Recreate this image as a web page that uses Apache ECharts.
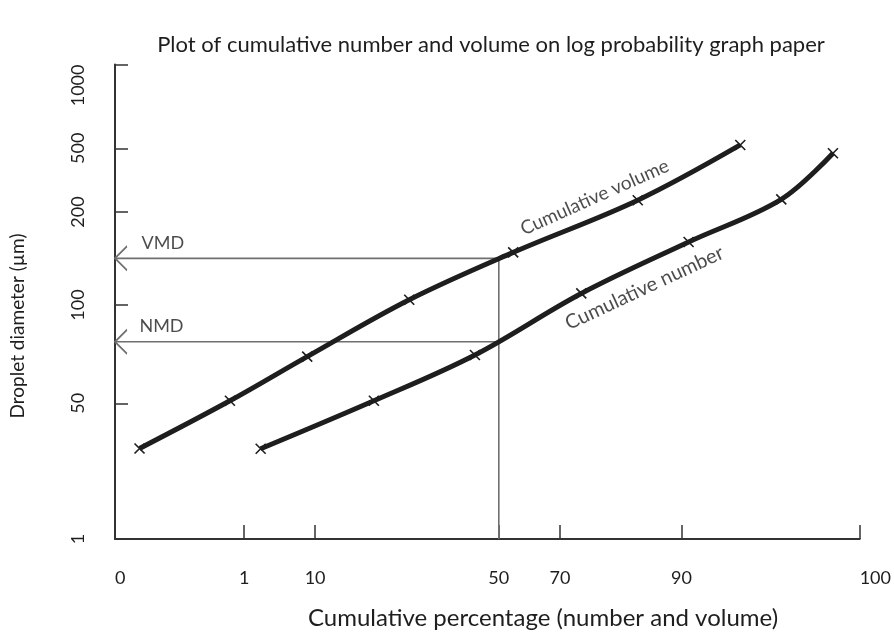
<!DOCTYPE html>
<html>
<head>
<meta charset="utf-8">
<script src="https://cdn.jsdelivr.net/npm/echarts@6/dist/echarts.min.js"></script>
<style>
  html, body { margin: 0; padding: 0; background: #fff; }
  #chart { width: 894px; height: 633px; }
</style>
</head>
<body>
<div id="chart"></div>
<script>
// tick values printed on the paper
const xTicks = [0, 1, 10, 50, 70, 90, 100];
const yTicks = [1, 50, 100, 200, 500, 1000];
// where the paper puts them (fraction of axis length) - the ruling is not a true scale
const xTickPos = [0, 0.1734, 0.2687, 0.5154, 0.5976, 0.7607, 1];
const yTickPos = [0, 0.286, 0.4932, 0.6891, 0.8234, 1];

// cumulative volume curve (percent, diameter um)
const volPct = [0.19, 0.89, 9.0, 30.5, 54.7, 82.8, 93.3];
const volDia = [13.6, 50.9, 69.5, 104, 148, 237, 514];
// cumulative number curve
const numPct = [3.1, 22.8, 44.8, 73.5, 90.4, 95.6, 98.5];
const numDia = [13.5, 50.9, 70.3, 109, 160, 240, 466];

const medianPct = 50;
const vmd = 141.6;
const nmd = 77.2;

// value -> position on the paper, piecewise between printed ticks (log for diameter)
function toPos(v, ticks, pos, isLog) {
  const f = isLog ? Math.log : (a => a);
  for (let i = 0; i < ticks.length - 1; i++) {
    if (v <= ticks[i + 1] || i === ticks.length - 2) {
      const t = (f(v) - f(ticks[i])) / (f(ticks[i + 1]) - f(ticks[i]));
      return pos[i] + t * (pos[i + 1] - pos[i]);
    }
  }
}
const px = v => toPos(v, xTicks, xTickPos, false);
const py = v => toPos(v, yTicks, yTickPos, true);
const pt = (p, d) => [px(p), py(d)];

function tickLabel(v, ticks, pos) {
  for (let i = 0; i < pos.length; i++) if (Math.abs(pos[i] - v) < 1e-6) return String(ticks[i]);
  return '';
}

const font = 'Lato, "Open Sans", sans-serif';
const ink = '#1e1e1e';
const grey = '#6f6f6f';
const cross = 'path://M0,0L10,10M10,0L0,10';
const chevron = 'path://M12,0L0,12L12,24';

function curve(pcts, dias) {
  return pcts.map((p, i) => pt(p, dias[i]));
}

function arrowLine(level) {
  return {
    type: 'line', silent: true, z: 1,
    lineStyle: { color: grey, width: 1.6 },
    itemStyle: { color: 'transparent', borderColor: grey, borderWidth: 1.6 },
    showSymbol: true,
    data: [
      { value: pt(medianPct, level), symbol: 'none' },
      { value: pt(0, level), symbol: chevron, symbolSize: [12, 24], symbolOffset: [6, 0] }
    ]
  };
}

const chart = echarts.init(document.getElementById('chart'));
const option = {
  animation: false,
  backgroundColor: '#fff',
  title: {
    text: 'Plot of cumulative number and volume on log probability graph paper',
    left: 486, textAlign: 'center', top: 29,
    textStyle: { fontFamily: font, fontSize: 22, fontWeight: 'normal', color: ink }
  },
  grid: { left: 115, right: 31, top: 64.5, bottom: 94 },
  xAxis: {
    type: 'value', min: 0, max: 1,
    axisLine: { lineStyle: { color: '#333', width: 2 } },
    axisTick: { inside: true, length: 14, customValues: xTickPos, lineStyle: { color: '#333', width: 1.5 } },
    axisLabel: {
      customValues: xTickPos, margin: 30,
      alignMinLabel: 'left', alignMaxLabel: 'left',
      fontFamily: font, fontSize: 18, color: ink,
      formatter: v => tickLabel(v, xTicks, xTickPos)
    },
    splitLine: { show: false }
  },
  yAxis: {
    type: 'value', min: 0, max: 1,
    axisLine: { show: true, lineStyle: { color: '#333', width: 2 } },
    axisTick: { show: true, inside: true, length: 13, customValues: yTickPos, lineStyle: { color: '#333', width: 1.5 } },
    axisLabel: {
      customValues: yTickPos, rotate: 90, margin: 28,
      alignMaxLabel: 'right',
      fontFamily: font, fontSize: 18, color: ink,
      formatter: v => tickLabel(v, yTicks, yTickPos)
    },
    splitLine: { show: false }
  },
  graphic: [
    {
      type: 'text', x: 18, y: 326, rotation: Math.PI / 2,
      style: {
        text: 'Droplet diameter (µm)', align: 'center', verticalAlign: 'middle',
        font: '19px ' + font, fill: ink
      }
    },
    {
      type: 'text', x: 543, y: 618,
      style: {
        text: 'Cumulative percentage (number and volume)', align: 'center', verticalAlign: 'middle',
        font: '24px ' + font, fill: ink
      }
    }
  ],
  series: [
    {
      type: 'line', silent: true, z: 1, symbol: 'none',
      lineStyle: { color: grey, width: 1.6 },
      data: [pt(medianPct, yTicks[0]), pt(medianPct, vmd)]
    },
    arrowLine(vmd),
    arrowLine(nmd),
    {
      name: 'Cumulative volume', type: 'line', smooth: 0.35, z: 3,
      symbol: cross, symbolSize: 10, showSymbol: true,
      lineStyle: { color: ink, width: 5 },
      itemStyle: { color: ink, borderColor: ink, borderWidth: 1.6 },
      data: curve(volPct, volDia)
    },
    {
      name: 'Cumulative number', type: 'line', smooth: 0.35, z: 3,
      symbol: cross, symbolSize: 10, showSymbol: true,
      lineStyle: { color: ink, width: 5 },
      itemStyle: { color: ink, borderColor: ink, borderWidth: 1.6 },
      data: curve(numPct, numDia)
    },
    {
      type: 'scatter', silent: true, symbolSize: 1, z: 4,
      itemStyle: { color: 'transparent' },
      label: {
        show: true, position: 'inside', formatter: '{b}',
        fontFamily: font, fontSize: 19, color: ink
      },
      data: [
        { name: 'Cumulative volume', value: pt(75.7, 247), label: { rotate: 24 } },
        { name: 'Cumulative number', value: pt(83.9, 113.5), label: { rotate: 25, fontSize: 20 } },
        { name: 'VMD', value: pt(0.37, 158.7), label: { fontSize: 18 } },
        { name: 'NMD', value: pt(0.36, 86.2), label: { fontSize: 18 } }
      ]
    }
  ]
};
chart.setOption(option);
</script>
</body>
</html>
